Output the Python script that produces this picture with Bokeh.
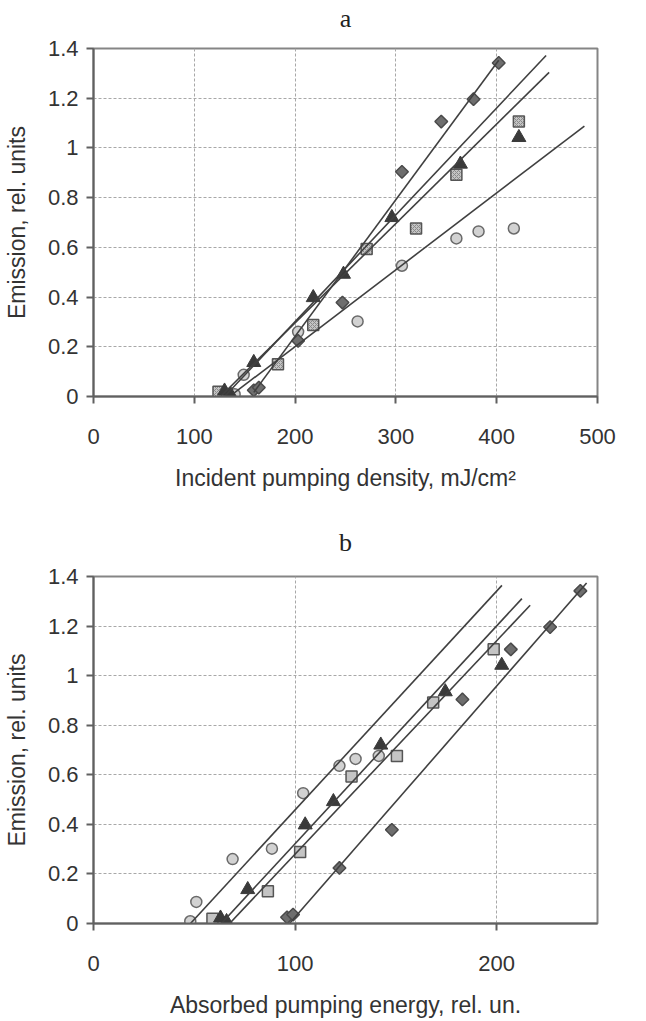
from bokeh.plotting import figure
from bokeh.layouts import column
from bokeh.models import Range1d, FixedTicker, LinearAxis
from bokeh.embed import file_html
from bokeh.resources import INLINE
import numpy as np

# ---------------- data ----------------
# Emission values (same for both panels)
dia_y = [0.025, 0.036, 0.224, 0.378, 0.904, 1.106, 1.196, 1.342]
sq_y = [0.019, 0.13, 0.288, 0.593, 0.676, 0.892, 1.106]
tri_y = [0.022, 0.008, 0.137, 0.398, 0.492, 0.72, 0.935, 1.042]
cir_y = [0.009, 0.087, 0.26, 0.302, 0.526, 0.636, 0.664, 0.676]

# panel a: incident pumping density, mJ/cm2
dia_xa = [159, 164, 203, 247, 306, 345, 377, 402]
sq_xa = [124, 183, 218, 271, 320, 360, 422]
tri_xa = [130, 136, 159, 218, 248, 296, 364, 422]
cir_xa = [140, 149, 203, 262, 306, 360, 382, 417]

# panel b: absorbed pumping energy, rel. un.
dia_xb = [96, 99, 122, 148, 183, 207, 226.5, 241.5]
sq_xb = [59, 86.5, 102.5, 128, 150.5, 168.5, 198.5]
tri_xb = [63, 66, 76.5, 105, 119, 142.5, 174.5, 202.5]
cir_xb = [48, 51, 69, 88.5, 104, 122, 130, 141.5]

# linear trend lines: order = diamonds, triangles, squares, circles
fit_a_slope = [0.0055, 0.0043, 0.0040, 0.00309]
fit_a_x0 = [156, 130, 126, 135]
fit_a_xstart = [159, 130, 126, 139]
fit_a_xend = [402, 449, 452, 487]

fit_b_slope = [0.00932, 0.00879, 0.00861, 0.00883]
fit_b_x0 = [97.2, 63.4, 67.5, 48.1]
fit_b_xstart = [97.2, 63.4, 67.5, 48.1]
fit_b_xend = [244.6, 212.5, 216.6, 202.6]

y_ticks = [0, 0.2, 0.4, 0.6, 0.8, 1, 1.2, 1.4]
y_tick_labels = ["0", "0.2", "0.4", "0.6", "0.8", "1", "1.2", "1.4"]
xa_ticks = [0, 100, 200, 300, 400, 500]
xb_ticks = [0, 100, 200]

TXT = "#333333"
FONT = "Liberation Sans"


def make_panel(title, xlabel, xmax, xticks, xs, slopes, x0s, xst, xen,
               width, height, bl, br, bt, bb, hatch, toff):
    p = figure(width=width, height=height, output_backend="svg",
               toolbar_location=None, x_range=Range1d(0, xmax),
               y_range=Range1d(0, 1.4), min_border_left=bl,
               min_border_right=br, min_border_top=bt, min_border_bottom=bb)
    bottom = p.below[0]
    left = p.left[0]

    # panel letter as a label-only axis above the frame
    mid = int(xmax // 2)
    top = LinearAxis(ticker=FixedTicker(ticks=[mid]),
                     major_label_overrides={mid: title, str(mid): title})
    top.axis_line_color = None
    top.major_tick_line_color = None
    top.minor_tick_line_color = None
    top.major_tick_out = 0
    top.major_tick_in = 0
    top.major_label_standoff = toff
    top.major_label_text_font = "Liberation Serif"
    top.major_label_text_font_size = "26px"
    top.major_label_text_color = "#222222"
    p.add_layout(top, "above")

    p.outline_line_color = "#858585"
    p.outline_line_width = 2

    for ax in (bottom, left):
        ax.axis_line_color = "#606060"
        ax.axis_line_width = 2
        ax.major_tick_line_color = "#606060"
        ax.major_tick_line_width = 2
        ax.major_tick_out = 7
        ax.major_tick_in = 0
        ax.minor_tick_line_color = None
        ax.major_label_text_font = FONT
        ax.major_label_text_font_size = "22px"
        ax.major_label_text_color = TXT
        ax.axis_label_text_font = FONT
        ax.axis_label_text_font_size = "23px"
        ax.axis_label_text_font_style = "normal"
        ax.axis_label_text_color = TXT

    bottom.ticker = FixedTicker(ticks=xticks)
    bottom.axis_label = xlabel
    bottom.major_label_standoff = 25
    bottom.axis_label_standoff = 18
    left.ticker = FixedTicker(ticks=y_ticks)
    left.major_label_overrides = {str(t): l for t, l in zip(y_ticks, y_tick_labels)}
    left.axis_label = "Emission, rel. units"
    left.major_label_standoff = 8
    left.axis_label_standoff = 15

    for g in (p.xgrid[0], p.ygrid[0]):
        g.grid_line_color = "#a8a8a8"
        g.grid_line_dash = "3 2"
        g.grid_line_width = 1
    p.xgrid[0].ticker = FixedTicker(ticks=xticks)
    p.ygrid[0].ticker = FixedTicker(ticks=y_ticks)

    dx, sx, tx, cx = xs
    # markers
    p.scatter(cx, cir_y, marker="circle", size=11, fill_color="#d2d2d2",
              line_color="#6a6a6a", line_width=1.5)
    kw = dict(marker="square", size=11, fill_color="#c4c4c4",
              line_color="#555555", line_width=1.5)
    if hatch:
        kw.update(hatch_pattern="diagonal_cross", hatch_color="#8a8a8a",
                  hatch_scale=4, hatch_weight=1)
    p.scatter(sx, sq_y, **kw)
    p.scatter(dx, dia_y, marker="square", angle=np.pi / 4, size=9,
              fill_color="#6e6e6e", line_color="#4a4a4a", line_width=1.5)
    p.scatter(tx, tri_y, marker="triangle", size=14, fill_color="#3a3a3a",
              line_color="#3a3a3a", line_width=1)

    # trend lines
    for k, x0, a, b in zip(slopes, x0s, xst, xen):
        lx = [a, b]
        ly = [k * (a - x0), k * (b - x0)]
        p.line(lx, ly, line_color="#404040", line_width=1.6)
    return p


pa = make_panel("a", "Incident pumping density, mJ/cm²", 500, xa_ticks,
                (dia_xa, sq_xa, tri_xa, cir_xa),
                fit_a_slope, fit_a_x0, fit_a_xstart, fit_a_xend,
                646, 510, 92, 49, 48, 114, True, 16)
pb = make_panel("b", "Absorbed pumping energy, rel. un.", 250, xb_ticks,
                (dia_xb, sq_xb, tri_xb, cir_xb),
                fit_b_slope, fit_b_x0, fit_b_xstart, fit_b_xend,
                646, 511, 93, 48, 66, 98, False, 20)

layout = column(pa, pb, spacing=0)
open("out.html", "w").write(file_html(layout, INLINE))
